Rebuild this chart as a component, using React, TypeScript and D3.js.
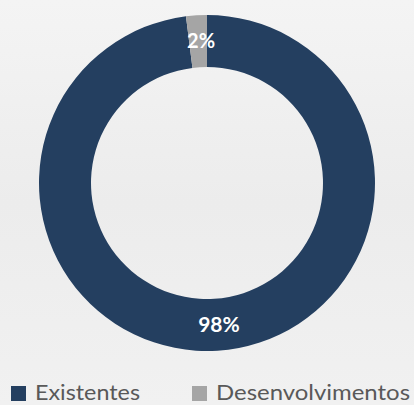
import React, { useEffect } from 'react';
import * as d3 from 'd3';

const categories = ['Existentes', 'Desenvolvimentos'];
const shares = [98, 2];
const colors = ['#243f60', '#a5a5a5'];
const labels = ['98%', '2%'];

const width = 414;
const height = 405;
const cx = 207;
const cy = 183;
const outerR = 168;
const innerR = 116;

export default function App() {
    useEffect(() => {
        document.body.style.margin = '0';
    }, []);

    const pie = d3.pie<number>().sort(null).value(d => d);
    const arcs = pie(shares);
    const arc = d3.arc<d3.PieArcDatum<number>>().innerRadius(innerR).outerRadius(outerR);

    // legend slots and text widths
    const legendX = d3.scaleOrdinal<string, number>().domain(categories).range([11, 192]);
    const legendW = d3.scaleOrdinal<string, number>().domain(categories).range([105, 194]);

    return (
        <svg width={width} height={height} style={{ display: 'block', background: '#f0f0f0' }}>
            <defs>
                <linearGradient id="bg" x1="0" y1="0" x2="0" y2="1">
                    <stop offset="0" stopColor="#f4f4f4" />
                    <stop offset="0.5" stopColor="#ececec" />
                    <stop offset="1" stopColor="#f1f1f1" />
                </linearGradient>
            </defs>
            <rect width={width} height={height} fill="url(#bg)" />
            <g transform={`translate(${cx},${cy})`}>
                {arcs.map((a, i) => (
                    <path key={categories[i]} d={arc(a) || ''} fill={colors[i]} />
                ))}
                {arcs.map((a, i) => {
                    const [x, y] = arc.centroid(a);
                    return (
                        <text
                            key={'l' + i}
                            x={x + 3}
                            y={y + 7}
                            textAnchor="middle"
                            fill="#ffffff"
                            fontFamily="Lato, sans-serif"
                            fontWeight="bold"
                            fontSize={i === 0 ? 21 : 20}
                        >
                            {labels[i]}
                        </text>
                    );
                })}
            </g>
            {categories.map((c, i) => (
                <g key={c} transform={`translate(${legendX(c)},0)`}>
                    <rect x={0} y={386} width={15} height={15} fill={colors[i]} />
                    <text
                        x={24}
                        y={400}
                        fill="#595959"
                        fontFamily="Lato, sans-serif"
                        fontSize={22}
                        textLength={legendW(c)}
                        lengthAdjust="spacingAndGlyphs"
                    >
                        {c}
                    </text>
                </g>
            ))}
        </svg>
    );
}
